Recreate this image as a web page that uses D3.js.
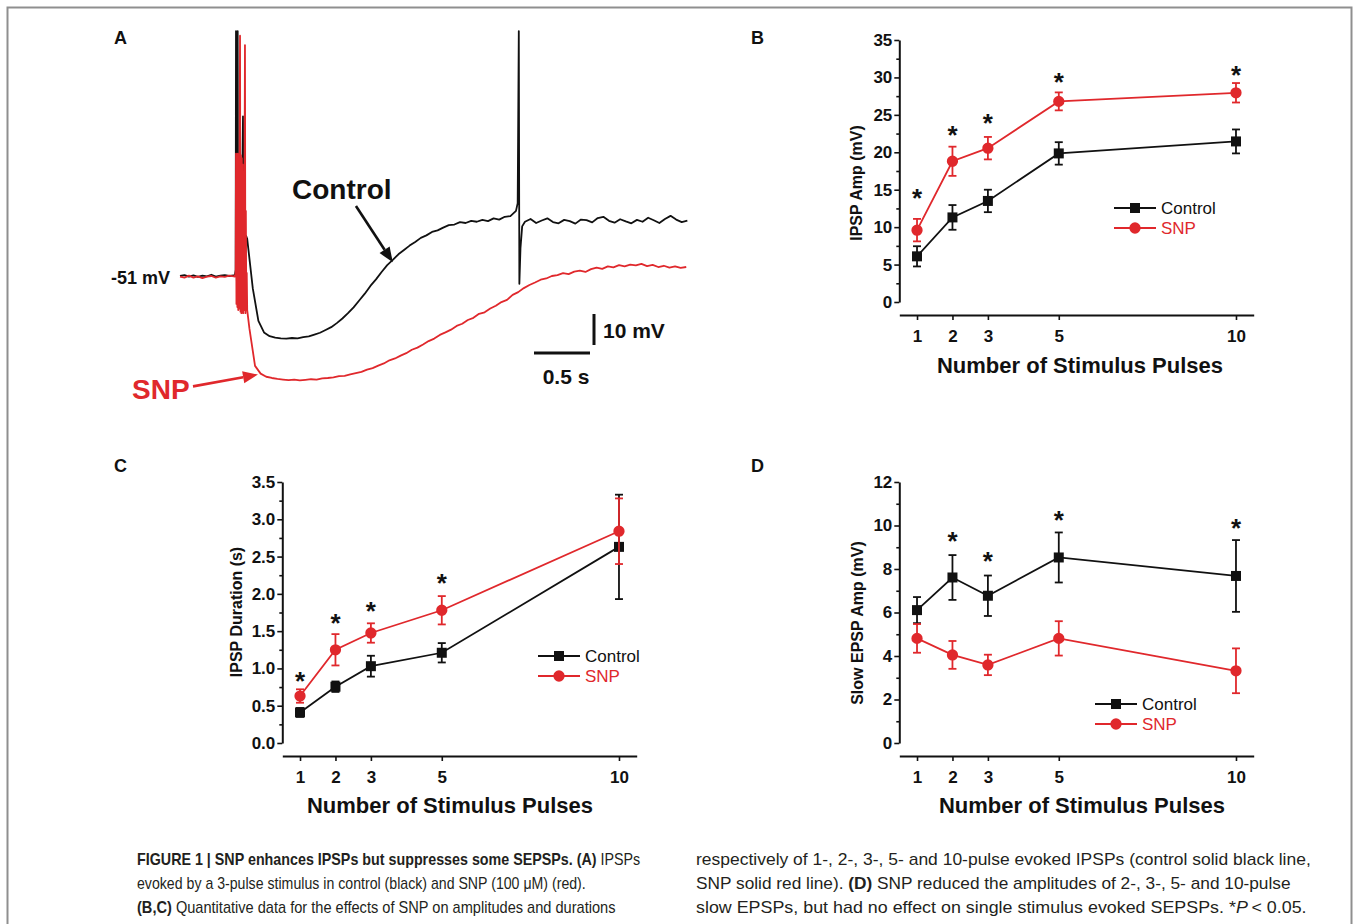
<!DOCTYPE html>
<meta charset="utf-8">
<script src="https://d3js.org/d3.v7.min.js"></script>
<style>
    body { margin: 0; background: #fff; }
    svg text { font-family: "Liberation Sans", Arial, Helvetica, sans-serif; }
</style>
<div id="fig"></div>

<script>

    // ---------- data ----------

    // number of stimulus pulses (x axis of B, C, D)
    var pulses = [1, 2, 3, 5, 10];

    // B: IPSP amplitude (mV), mean and error bar
    var ampCtrl    = [6.1, 11.3, 13.5, 19.85, 21.45];
    var ampCtrlErr = [1.35, 1.65, 1.5, 1.5, 1.6];
    var ampSnp     = [9.6, 18.8, 20.55, 26.8, 27.95];
    var ampSnpErr  = [1.5, 1.95, 1.5, 1.2, 1.3];
    var ampStars   = [14.5, 23.0, 24.6, 30.05, 31.0];

    // C: IPSP duration (s)
    var durCtrl    = [0.41, 0.755, 1.03, 1.21, 2.63];
    var durCtrlErr = [0.06, 0.07, 0.14, 0.13, 0.70];
    var durSnp     = [0.63, 1.25, 1.475, 1.78, 2.84];
    var durSnpErr  = [0.09, 0.21, 0.13, 0.19, 0.44];
    var durStars   = [0.90, 1.67, 1.84, 2.215, null];

    // D: slow EPSP amplitude (mV)
    var epspCtrl    = [6.11, 7.61, 6.77, 8.53, 7.68];
    var epspCtrlErr = [0.6, 1.03, 0.93, 1.15, 1.65];
    var epspSnp     = [4.81, 4.05, 3.59, 4.81, 3.32];
    var epspSnpErr  = [0.66, 0.64, 0.47, 0.79, 1.03];
    var epspStars   = [null, 9.53, 8.58, 10.48, 10.11];

    // tick labels
    var ampTicks  = [0, 5, 10, 15, 20, 25, 30, 35];
    var durTicks  = [0, 0.5, 1.0, 1.5, 2.0, 2.5, 3.0, 3.5];
    var epspTicks = [0, 2, 4, 6, 8, 10, 12];

    // A: membrane potential traces (mV)
    // baseline, one sample every 0.04 s from t = 0
    var ctrlBaseV = [-51.0, -50.7, -51.2, -50.8, -51.3, -50.9, -51.1, -50.6, -51.2, -50.9, -50.7, -51.0, -50.8];
    var snpBaseV  = [-51.2, -51.5, -50.9, -51.5, -51.1, -51.7, -51.2, -51.0, -51.5, -51.1, -51.3, -50.9, -51.1];
    // stimulus artefacts / spikes, [t (s), V (mV)]
    var ctrlSpike = [[0.490, -50.8], [0.497, -49], [0.500, 28], [0.504, -45], [0.510, -57], [0.515, 28],
        [0.520, -52], [0.528, -60], [0.535, -35], [0.545, -61], [0.556, -20], [0.5625, 0.5],
        [0.568, -58], [0.578, -50], [0.588, -38], [0.595, -38.5]];
    var snpSpike = [[0.490, -51.2], [0.497, -50], [0.500, -11.5], [0.504, -60], [0.508, -12], [0.512, -61],
        [0.516, -11.5], [0.520, -62], [0.524, -12], [0.528, -61.5], [0.532, -14], [0.536, 26.5],
        [0.540, -62.5], [0.544, -12], [0.548, -63], [0.552, -13], [0.556, -62], [0.560, -15],
        [0.564, -63], [0.568, -18], [0.572, -62], [0.576, -22], [0.580, 23.5], [0.584, -63],
        [0.588, -30], [0.592, -62], [0.596, -50], [0.600, -62]];
    // control IPSP, every 0.05 s from t = 0.60
    var ctrlBodyV = [-39, -55, -65.5, -69.2, -70.4, -70.9, -71.1, -71.2, -71.0, -71.1, -70.7, -70.5,
        -69.9, -69.3, -68.4, -67.5, -66.2, -64.7, -63.0, -61.1, -58.9, -56.7, -54.2, -52.1, -49.7,
        -47.5, -45.8, -44.0, -42.6, -41.2, -40.0, -38.7, -37.9, -36.8, -36.3, -35.4, -34.6, -34.4,
        -33.6, -33.9, -33.2, -33.5, -32.9, -33.3, -32.4, -32.8, -31.9, -31.7, -30.0];
    // action potential on the slow EPSP
    var ctrlAp = [[3.015, -27.5], [3.025, 28], [3.030, -53.5], [3.040, -42], [3.055, -35]];
    // control tail, every 0.05 s from t = 3.08
    var ctrlTailV = [-33.5, -32.6, -33.9, -33.1, -32.4, -33.6, -34.0, -32.9, -33.3, -34.1, -32.8, -33.0,
        -33.7, -32.3, -31.9, -33.2, -33.8, -32.7, -33.4, -34.0, -32.9, -33.5, -32.2, -33.0, -33.9,
        -32.6, -31.6, -32.8, -33.6, -33.1];
    // SNP IPSP, every 0.05 s from t = 0.62
    var snpBodyV = [-68, -80, -82.5, -83.5, -83.9, -84.2, -84.4, -84.6, -84.4, -84.7, -84.5, -84.3,
        -84.4, -84.0, -83.9, -83.7, -83.3, -83.2, -82.7, -82.3, -81.9, -81.2, -80.7, -79.9, -79.2,
        -78.2, -77.6, -76.7, -75.9, -74.8, -74.1, -73.1, -72.0, -71.2, -70.0, -69.2, -68.3, -67.1,
        -66.4, -65.2, -64.5, -63.2, -62.7, -61.5, -60.6, -59.4, -58.7, -57.1, -56.2, -54.9, -53.9,
        -53.1, -52.2, -51.8, -51.0, -50.7, -50.1, -50.4, -49.6, -49.3, -49.7, -48.8, -48.3, -48.7,
        -47.9, -48.2, -47.5, -47.9, -47.3, -47.6, -47.1, -47.8, -47.4, -48.1, -47.7, -48.3, -47.9,
        -48.4, -48.1];

    var black = "#111111", red = "#e0282c";

    // ---------- svg ----------
    var svg = d3.select("#fig")
        .append("svg")
        .attr("width", 1354)
        .attr("height", 924);

    // frame around the figure
    svg.append("rect")
        .attr("x", 7.5).attr("y", 7.5)
        .attr("width", 1344).attr("height", 940)
        .style("fill", "none").style("stroke", "#8f8f8f").style("stroke-width", 2);

    // panel letters
    [["A", 114, 44], ["B", 751, 44], ["C", 114, 472], ["D", 751, 472]].forEach(function(p) {
        svg.append("text").attr("x", p[1]).attr("y", p[2]).text(p[0])
            .style("font-size", "18px").style("font-weight", "bold").style("fill", black);
    });

    // ---------- panel A ----------
    var xA = d3.scaleLinear().domain([0, 4.55]).range([180, 689.6]);
    var yA = d3.scaleLinear().domain([-90, 30]).range([396.9, 24.9]);

    function sampled(vals, t0, dt) {
        return vals.map(function(v, i) { return [t0 + i * dt, v]; });
    }

    var ctrlTrace = sampled(ctrlBaseV, 0, 0.04)
        .concat(ctrlSpike, sampled(ctrlBodyV, 0.60, 0.05), ctrlAp, sampled(ctrlTailV, 3.08, 0.05));
    var snpTrace = sampled(snpBaseV, 0, 0.04)
        .concat(snpSpike, sampled(snpBodyV, 0.62, 0.05));

    var traceLine = d3.line()
        .x(function(d) { return xA(d[0]); })
        .y(function(d) { return yA(d[1]); });

    svg.append("path").attr("d", traceLine(ctrlTrace))
        .style("fill", "none").style("stroke", black).style("stroke-width", 1.8).style("stroke-linejoin", "round");
    svg.append("path").attr("d", traceLine(snpTrace))
        .style("fill", "none").style("stroke", red).style("stroke-width", 1.8).style("stroke-linejoin", "round");

    svg.append("text").attr("x", 170).attr("y", 284).attr("text-anchor", "end").text("-51 mV")
        .style("font-size", "18px").style("font-weight", "bold").style("fill", black);

    // arrows pointing at the traces
    function arrow(from, to, color) {
        var x0 = xA(from[0]), y0 = yA(from[1]), x1 = xA(to[0]), y1 = yA(to[1]);
        var a = Math.atan2(y1 - y0, x1 - x0), len = 15, half = 6;
        var bx = x1 - len * Math.cos(a), by = y1 - len * Math.sin(a);
        svg.append("line").attr("x1", x0).attr("y1", y0).attr("x2", bx).attr("y2", by)
            .style("stroke", color).style("stroke-width", 2.6);
        svg.append("path")
            .attr("d", "M" + x1 + "," + y1 +
                "L" + (bx + half * Math.sin(a)) + "," + (by - half * Math.cos(a)) +
                "L" + (bx - half * Math.sin(a)) + "," + (by + half * Math.cos(a)) + "Z")
            .style("fill", color);
    }
    arrow([1.571, -28.4], [1.90, -46.6], black);
    arrow([0.116, -86.6], [0.696, -82.8], red);

    svg.append("text").attr("x", 292).attr("y", 199).text("Control")
        .style("font-size", "28px").style("font-weight", "bold").style("fill", black);
    svg.append("text").attr("x", 132).attr("y", 399).text("SNP")
        .style("font-size", "28px").style("font-weight", "bold").style("fill", red);

    // scale bars: 10 mV and 0.5 s
    var barX = 594, barY = 353;
    svg.append("line").attr("x1", barX).attr("x2", barX)
        .attr("y1", barY - 8).attr("y2", barY - 8 - (yA(-80) - yA(-70)))
        .style("stroke", black).style("stroke-width", 3);
    svg.append("line").attr("x1", barX - 4 - (xA(0.5) - xA(0))).attr("x2", barX - 4)
        .attr("y1", barY).attr("y2", barY)
        .style("stroke", black).style("stroke-width", 3);
    svg.append("text").attr("x", 603).attr("y", 338).text("10 mV")
        .style("font-size", "21px").style("font-weight", "bold").style("fill", black);
    svg.append("text").attr("x", 566).attr("y", 384).attr("text-anchor", "middle").text("0.5 s")
        .style("font-size", "21px").style("font-weight", "bold").style("fill", black);

    // ---------- panels B, C, D ----------
    function panel(o) {
        var x = d3.scaleLinear().domain([0.5, 10.5]).range([o.left, o.left + 354.4]);
        var y = d3.scaleLinear().domain([0, o.ymax]).range([o.bottom, o.top]);
        var g = svg.append("g");

        // y axis with minor ticks
        g.append("g").attr("transform", "translate(" + o.left + ",0)")
            .call(d3.axisLeft(y).tickValues(o.ticks).tickFormat(o.fmt)
                .tickSize(5).tickSizeOuter(0).tickPadding(2));
        g.append("g").attr("transform", "translate(" + o.left + ",0)")
            .call(d3.axisLeft(y).tickValues(d3.range(o.minor, o.ymax, o.ticks[1])).tickFormat("")
                .tickSize(3).tickSizeOuter(0))
            .select(".domain").remove();

        // x axis, offset below the plot
        g.append("g").attr("transform", "translate(0," + (o.bottom + 13) + ")")
            .call(d3.axisBottom(x).tickValues(pulses).tickSize(5).tickSizeOuter(0).tickPadding(10));

        g.selectAll(".domain").style("stroke", black).style("stroke-width", 2);
        g.selectAll(".tick line").style("stroke", black).style("stroke-width", 1.6);
        g.selectAll(".tick text").style("font-size", "17px").style("font-weight", "bold").style("fill", black)
            .style("font-family", '"Liberation Sans", Arial, sans-serif');

        // axis titles
        g.append("text").attr("x", o.xTitle[0]).attr("y", o.xTitle[1]).attr("text-anchor", "middle")
            .text("Number of Stimulus Pulses")
            .style("font-size", "22px").style("font-weight", "bold").style("fill", black);
        g.append("text").attr("transform", "translate(" + o.yTitle[0] + "," + o.yTitle[1] + ") rotate(-90)")
            .attr("text-anchor", "middle").text(o.yLabel)
            .style("font-size", "16px").style("font-weight", "bold").style("fill", black);

        // series: error bars, line, markers
        [[o.ctrl, o.ctrlErr, black, "square"], [o.snp, o.snpErr, red, "circle"]].forEach(function(s) {
            var pts = pulses.map(function(p, i) { return {p: p, v: s[0][i], e: s[1][i]}; });
            var eb = g.append("g").selectAll("g").data(pts).enter().append("g")
                .style("stroke", s[2]).style("stroke-width", 1.8);
            eb.append("line")
                .attr("x1", function(d) { return x(d.p); }).attr("x2", function(d) { return x(d.p); })
                .attr("y1", function(d) { return y(d.v - d.e); }).attr("y2", function(d) { return y(d.v + d.e); });
            eb.append("line")
                .attr("x1", function(d) { return x(d.p) - 4; }).attr("x2", function(d) { return x(d.p) + 4; })
                .attr("y1", function(d) { return y(d.v + d.e); }).attr("y2", function(d) { return y(d.v + d.e); });
            eb.append("line")
                .attr("x1", function(d) { return x(d.p) - 4; }).attr("x2", function(d) { return x(d.p) + 4; })
                .attr("y1", function(d) { return y(d.v - d.e); }).attr("y2", function(d) { return y(d.v - d.e); });

            g.append("path")
                .attr("d", d3.line().x(function(d) { return x(d.p); }).y(function(d) { return y(d.v); })(pts))
                .style("fill", "none").style("stroke", s[2]).style("stroke-width", 1.8);

            var sym = d3.symbol().type(s[3] == "square" ? d3.symbolSquare : d3.symbolCircle).size(100);
            g.selectAll(null).data(pts).enter().append("path")
                .attr("d", sym)
                .attr("transform", function(d) { return "translate(" + x(d.p) + "," + y(d.v) + ")"; })
                .style("fill", s[2]);
        });

        // significance stars
        g.selectAll(null).data(pulses.map(function(p, i) { return {p: p, v: o.stars[i]}; })
                .filter(function(d) { return d.v != null; }))
            .enter().append("text")
            .attr("x", function(d) { return x(d.p); })
            .attr("y", function(d) { return y(d.v) + 14; })
            .attr("text-anchor", "middle").text("*")
            .style("font-size", "26px").style("font-weight", "bold").style("fill", black);

        // legend
        [["Control", black, "square", 0], ["SNP", red, "circle", 20]].forEach(function(l) {
            var ly = o.legend[1] + l[3];
            g.append("line").attr("x1", o.legend[0]).attr("x2", o.legend[0] + 42)
                .attr("y1", ly).attr("y2", ly)
                .style("stroke", l[1]).style("stroke-width", 1.8);
            g.append("path")
                .attr("d", d3.symbol().type(l[2] == "square" ? d3.symbolSquare : d3.symbolCircle).size(100))
                .attr("transform", "translate(" + (o.legend[0] + 21) + "," + ly + ")")
                .style("fill", l[1]);
            g.append("text").attr("x", o.legend[0] + 47).attr("y", ly).attr("dy", "0.36em").text(l[0])
                .style("font-size", "17px").style("fill", l[1]);
        });
    }

    panel({left: 899.3, top: 40, bottom: 302, ymax: 35, ticks: ampTicks, minor: 2.5,
        fmt: d3.format("d"), yLabel: "IPSP Amp (mV)",
        ctrl: ampCtrl, ctrlErr: ampCtrlErr, snp: ampSnp, snpErr: ampSnpErr, stars: ampStars,
        xTitle: [1080, 373], yTitle: [862, 183], legend: [1114, 208]});

    panel({left: 282.3, top: 482, bottom: 743, ymax: 3.5, ticks: durTicks, minor: 0.25,
        fmt: d3.format(".1f"), yLabel: "IPSP Duration (s)",
        ctrl: durCtrl, ctrlErr: durCtrlErr, snp: durSnp, snpErr: durSnpErr, stars: durStars,
        xTitle: [450, 813], yTitle: [242, 612], legend: [538, 656]});

    panel({left: 899.3, top: 482, bottom: 743, ymax: 12, ticks: epspTicks, minor: 1,
        fmt: d3.format("d"), yLabel: "Slow EPSP Amp (mV)",
        ctrl: epspCtrl, ctrlErr: epspCtrlErr, snp: epspSnp, snpErr: epspSnpErr, stars: epspStars,
        xTitle: [1082, 813], yTitle: [863, 623], legend: [1095, 704]});

    // ---------- caption ----------
    var captionLeft = [
        [["FIGURE 1 | SNP enhances IPSPs but suppresses some SEPSPs. (A)", "b"], [" IPSPs", ""]],
        [["evoked by a 3-pulse stimulus in control (black) and SNP (100 \u03bcM) (red).", ""]],
        [["(B,C)", "b"], [" Quantitative data for the effects of SNP on amplitudes and durations", ""]]
    ];
    var captionRight = [
        [["respectively of 1-, 2-, 3-, 5- and 10-pulse evoked IPSPs (control solid black line,", ""]],
        [["SNP solid red line). ", ""], ["(D)", "b"], [" SNP reduced the amplitudes of 2-, 3-, 5- and 10-pulse", ""]],
        [["slow EPSPs, but had no effect on single stimulus evoked SEPSPs. *", ""], ["P", "i"], ["\u2009< 0.05.", ""]]
    ];
    var leftWidths = [504, 449, 479], rightWidths = [615, 595, 611];

    // each line is squeezed horizontally to the width it has in the print
    function captionColumn(lines, x0, widths) {
        lines.forEach(function(parts, i) {
            var t = svg.append("text").attr("x", 0).attr("y", 0)
                .style("font-size", "16px").style("fill", "#231f20");
            parts.forEach(function(p) {
                t.append("tspan").text(p[0])
                    .style("font-weight", p[1] == "b" ? "bold" : "normal")
                    .style("font-style", p[1] == "i" ? "italic" : "normal");
            });
            var natural = t.node().getComputedTextLength();
            t.attr("transform", "translate(" + x0 + "," + (865 + i * 24) + ") scale(" + (widths[i] / natural) + ",1)");
        });
    }
    captionColumn(captionLeft, 137, leftWidths);
    captionColumn(captionRight, 696, rightWidths);

</script>
